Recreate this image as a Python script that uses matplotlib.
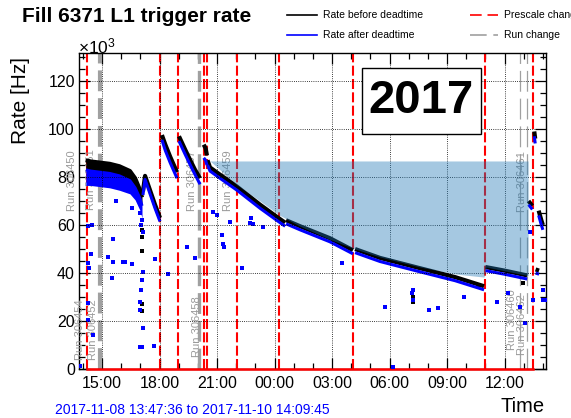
import matplotlib
matplotlib.use('Agg')
import matplotlib.pyplot as plt
from matplotlib.lines import Line2D
from matplotlib.patches import Rectangle
from matplotlib.ticker import FixedLocator, MultipleLocator

plt.rcParams['font.family'] = ['Liberation Sans', 'DejaVu Sans']
plt.rcParams['mathtext.fontset'] = 'custom'
plt.rcParams['mathtext.rm'] = 'Liberation Sans'

# time axis: hours since 2017-11-08 00:00
t_start, t_end = 13.7933, 38.1625
major_ticks = [15, 18, 21, 24, 27, 30, 33, 36]
major_labels = ['15:00', '18:00', '21:00', '00:00', '03:00', '06:00', '09:00', '12:00']

# Rate before deadtime (x10^3 Hz), one entry per fill segment
before_t = [[14.15, 14.40, 14.90, 15.40, 15.90, 16.45, 16.72, 16.98, 17.08],
            [17.13, 17.24, 17.50, 17.76, 18.02],
            [18.12, 18.30, 18.55, 18.91],
            [19.01, 19.33, 19.60, 19.85, 20.11],
            [20.30, 20.40, 20.47],
            [20.50, 20.63, 21.15, 22.04, 23.24, 24.28, 24.55],
            [24.60, 25.33, 26.89, 28.09],
            [28.20, 29.50, 31.59, 33.42, 34.93],
            [35.00, 36.00, 37.18],
            [37.25, 37.45],
            [37.55, 37.60],
            [37.62, 37.80],
            [37.78, 37.92, 38.00]]
before_v = [[87.0, 86.5, 86.0, 85.5, 84.5, 82.5, 79.5, 74.5, 71.5],
            [74.0, 80.5, 74.5, 68.5, 63.0],
            [97.5, 93.5, 88.5, 82.0],
            [97.0, 91.5, 87.0, 83.0, 79.5],
            [93.5, 92.0, 89.0],
            [87.0, 84.0, 81.0, 76.0, 68.5, 62.5, 61.0],
            [62.0, 59.5, 54.5, 49.5],
            [50.0, 46.3, 42.0, 38.3, 34.5],
            [42.5, 41.0, 39.0],
            [70.0, 68.0],
            [99.0, 96.0],
            [41.5, 41.0],
            [66.0, 62.0, 60.0]]
# Rate after deadtime
after_v = [[83.0, 82.5, 82.0, 81.5, 80.5, 78.5, 75.5, 71.0, 68.0],
           [72.5, 79.0, 73.0, 67.0, 61.5],
           [95.5, 91.0, 86.0, 79.5],
           [95.0, 89.5, 85.0, 81.0, 77.0],
           [88.0, 87.0, 85.0],
           [85.0, 82.5, 79.5, 74.5, 67.0, 61.0, 59.5],
           [60.5, 58.0, 53.0, 48.0],
           [48.5, 44.8, 40.5, 36.8, 33.0],
           [41.0, 39.5, 37.5],
           [68.5, 66.5],
           [97.0, 94.0],
           [40.0, 39.5],
           [64.0, 60.0, 58.0]]
# spread of the after-deadtime band in the first segment (lower envelope)
after_low_first = [76.5, 76.5, 76.0, 75.5, 74.5, 73.0, 70.5, 66.0, 63.0]

# isolated after-deadtime points
after_out_t = [14.26, 14.42, 14.26, 14.32, 15.57, 15.31, 15.57, 15.52, 16.09, 16.19, 16.56,
               14.26, 14.26, 14.52, 17.13, 17.76, 17.71, 17.13, 16.98, 16.98, 17.08, 18.44,
               19.43, 19.85, 16.98, 17.03, 17.08, 17.03, 17.13, 13.85, 16.56, 16.98, 17.08,
               15.72, 14.47, 21.26, 21.31, 21.36, 21.00, 22.30, 22.77, 22.87, 20.79, 21.67,
               22.72, 23.40, 31.23, 31.18, 31.23, 29.76, 32.06, 32.53, 35.61, 36.18, 37.99,
               37.33, 36.80, 37.07, 37.49, 38.10, 37.99, 30.20, 27.50, 33.90]
after_out_v = [59.6, 47.9, 44.2, 42.1, 54.2, 46.7, 44.6, 37.9, 44.6, 44.6, 43.8,
               27.5, 20.4, 14.2, 40.4, 45.8, 9.6, 17.1, 24.6, 9.2, 9.2, 39.6,
               50.8, 46.3, 27.9, 32.9, 37.1, 60.0, 57.1, 1.2, 67.0, 65.0, 62.0,
               70.0, 60.0, 55.8, 52.0, 50.8, 64.0, 42.0, 63.0, 60.4, 65.4, 61.3,
               60.8, 59.2, 32.9, 31.7, 28.7, 25.8, 24.6, 25.4, 27.9, 31.7, 28.7,
               57.0, 25.8, 19.2, 28.7, 28.7, 32.9, 1.0, 44.0, 30.0]
# isolated before-deadtime points
before_out_t = [17.08, 17.08, 17.08, 17.08, 17.08, 31.20, 31.23, 34.60, 36.95]
before_out_v = [58.0, 55.0, 49.0, 27.0, 24.0, 30.0, 28.0, 35.0, 36.0]

# highlighted band (upper level and lower edge)
band_top = 86.7
band_t = [20.63, 22.04, 23.24, 24.28, 25.33, 26.89, 28.20, 29.50, 31.59, 33.42, 34.93, 35.04, 37.18, 37.23]
band_low = [86.7, 76.7, 70.0, 64.0, 59.5, 54.0, 50.0, 46.7, 42.5, 39.6, 38.3, 42.5, 39.0, 39.0]

prescale_changes = [14.21, 18.02, 18.96, 20.32, 20.47, 22.04, 24.23, 28.09, 34.98, 37.49]
run_changes = [14.89, 20.06, 36.81, 37.18]
run_change_widths = [3.0, 2.4, 0.9, 0.9]

run_labels = ['Run 306450', 'Run 306451', 'Run 306454', 'Run 306452', 'Run 306457',
              'Run 306459', 'Run 306458', 'Run 306460', 'Run 306462', 'Run 306461']
run_label_t = [13.43, 14.42, 13.85, 14.52, 19.69, 21.57, 19.95, 36.39, 36.91, 36.91]
run_label_v = [78.3, 78.8, 16.3, 16.3, 78.3, 78.5, 17.5, 20.4, 18.5, 78.0]

W, H = 571, 418
fig = plt.figure(figsize=(W / 100, H / 100), dpi=100)
ax = fig.add_axes([79 / W, 1 - 369 / H, (546 - 79) / W, (369 - 53) / H])
ax.set_xlim(t_start, t_end)
ax.set_ylim(0, 131.7)

# grid
for v in [20, 40, 60, 80, 100, 120]:
    ax.axhline(v, color='black', lw=0.6, ls=(0, (1, 1.6)), zorder=6)
for t in major_ticks:
    ax.axvline(t, color='black', lw=0.6, ls=(0, (1, 1.6)), zorder=6)

# run / prescale change markers
for t, w in zip(run_changes, run_change_widths):
    ax.axvline(t, color='#a0a0a0', lw=w, dashes=(15 / w, 5 / w), zorder=2)
for t in prescale_changes:
    ax.axvline(t, color='red', lw=1.5, dashes=(4.8, 1.6), zorder=2)
ax.plot([prescale_changes[0], prescale_changes[-1]], [0, 0], color='red', lw=1.8, zorder=3, clip_on=False)

for lab, t, v in zip(run_labels, run_label_t, run_label_v):
    ax.text(t, v, lab, rotation=90, ha='center', va='center', fontsize=8,
            color='#9a9a9a', zorder=4, clip_on=False)

# data
for i, (ts, bv, av) in enumerate(zip(before_t, before_v, after_v)):
    ax.plot(ts, bv, color='black', lw=3.0, solid_capstyle='butt', zorder=4)
    if i == 0:
        ax.fill_between(ts, av, bv, color='black', lw=0, zorder=4)
        ax.fill_between(ts, after_low_first, av, color='blue', lw=0, zorder=5)
    ax.plot(ts, av, color='blue', lw=2.2, solid_capstyle='butt', zorder=5)
ax.plot(before_out_t, before_out_v, ls='none', marker='s', ms=2.2, color='black', mew=0, zorder=4)
ax.plot(after_out_t, after_out_v, ls='none', marker='s', ms=2.4, color='blue', mew=0, zorder=5)

ax.fill_between(band_t, band_low, band_top, color='#1f77b4', alpha=0.4, lw=0, zorder=7)

# axes styling
ax.xaxis.set_major_locator(FixedLocator(major_ticks))
ax.set_xticklabels(major_labels)
ax.xaxis.set_minor_locator(MultipleLocator(1))
ax.yaxis.set_major_locator(MultipleLocator(20))
ax.yaxis.set_minor_locator(MultipleLocator(5))
ax.tick_params(which='both', direction='in', top=True, right=True, labelsize=11.5, width=0.9)
ax.tick_params(which='major', length=8)
ax.tick_params(which='minor', length=4.5)
ax.tick_params(axis='y', pad=3)
ax.tick_params(axis='x', pad=5)
for s in ax.spines.values():
    s.set_linewidth(1.0)

# texts
fig.text(22 / W, 1 - 17 / H, 'Fill 6371 L1 trigger rate', fontsize=15, fontweight='bold', ha='left', va='center')
fig.text(78 / W, 1 - 46 / H, r'$\mathregular{\times10^{3}}$', fontsize=12.5, ha='left', va='center')
fig.text(21 / W, 1 - 100 / H, 'Rate [Hz]', rotation=90, fontsize=15, ha='center', va='center')
fig.text(545 / W, 1 - 407 / H, 'Time', fontsize=14.5, ha='right', va='center')
fig.text(55 / W, 1 - 410 / H, '2017-11-08 13:47:36 to 2017-11-10 14:09:45', fontsize=10,
         color='blue', ha='left', va='center')

# 2017 box
fig.add_artist(Rectangle((362 / W, 1 - 134 / H), (481 - 362) / W, (134 - 68) / H,
                         transform=fig.transFigure, facecolor='white', edgecolor='black', lw=1.0, zorder=10))
fig.text(421.5 / W, 1 - 101 / H, '2017', fontsize=34, fontweight='bold', ha='center', va='center', zorder=11)

# legend
def leg(x0, x1, y, color, lw, dashes=None):
    ln = Line2D([x0 / W, x1 / W], [1 - y / H, 1 - y / H], transform=fig.transFigure, color=color, lw=lw)
    if dashes:
        ln.set_dashes(dashes)
    fig.add_artist(ln)

leg(287, 317, 15, 'black', 1.2)
leg(287, 317, 35, 'blue', 1.2)
leg(470, 498, 15, 'red', 1.2, (7, 3.5))
leg(470, 498, 35, '#a0a0a0', 1.2, (10, 4))
fig.text(323 / W, 1 - 15 / H, 'Rate before deadtime', fontsize=7.5, ha='left', va='center')
fig.text(323 / W, 1 - 35 / H, 'Rate after deadtime', fontsize=7.5, ha='left', va='center')
fig.text(504 / W, 1 - 15 / H, 'Prescale change', fontsize=7.5, ha='left', va='center')
fig.text(504 / W, 1 - 35 / H, 'Run change', fontsize=7.5, ha='left', va='center')

fig.savefig('out.png', dpi=100)
